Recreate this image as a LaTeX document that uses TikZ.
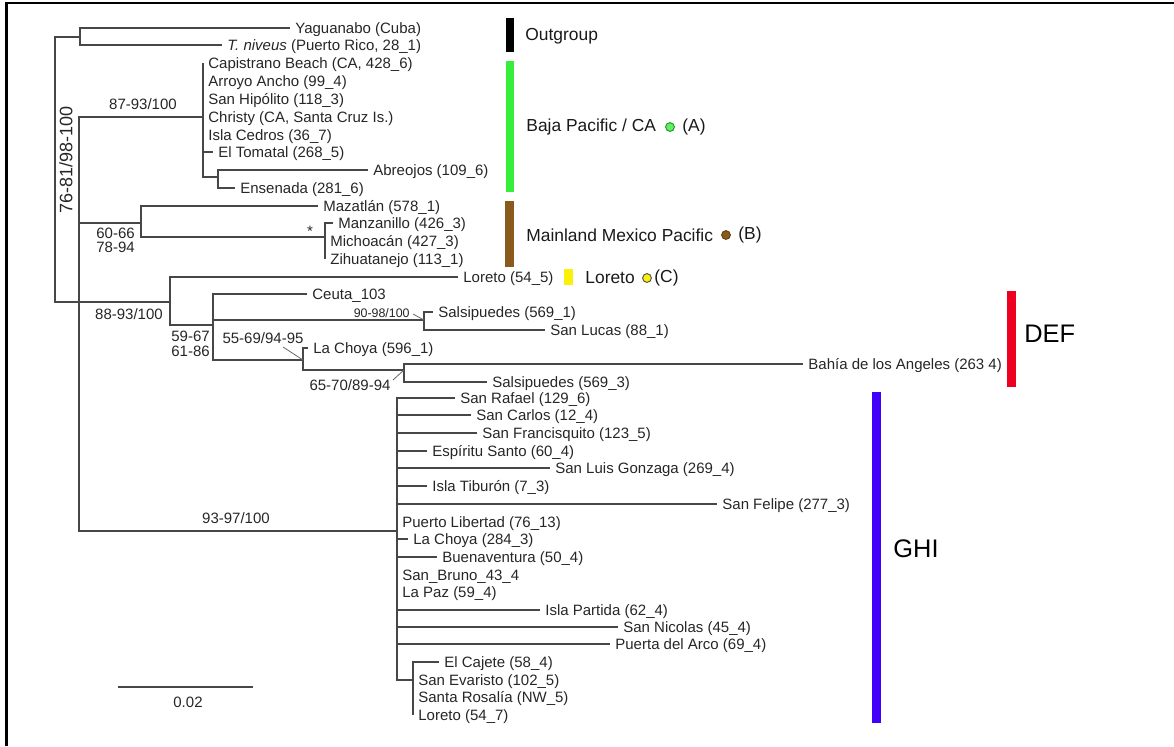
\documentclass[tikz,border=0pt]{standalone}
\usepackage{fontspec}
\setmainfont{Liberation Sans}
\definecolor{ogblack}{RGB}{0,0,0}
\definecolor{bajagreen}{RGB}{55,238,60}
\definecolor{mexbrown}{RGB}{138,90,28}
\definecolor{loryellow}{RGB}{250,240,10}
\definecolor{defred}{RGB}{238,0,32}
\definecolor{ghiblue}{RGB}{66,0,250}

\begin{document}
\begin{tikzpicture}[x=0.5pt,y=-0.5pt,
	br/.style={draw=black!72,line width=0.75pt},
	lead/.style={draw=black!60,line width=0.4pt},
	tx/.style={anchor=west,inner xsep=2.5pt,inner ysep=0pt,text height=6.4pt,text depth=1pt,font=\fontsize{7.5}{8}\selectfont,text=black!85},
	bsup/.style={inner sep=0pt,font=\fontsize{7.5}{8}\selectfont,text=black!85},
	grp/.style={anchor=west,inner sep=0pt,font=\fontsize{8.7}{10}\selectfont,text=black!90},
	big/.style={anchor=west,inner sep=0pt,font=\fontsize{12.7}{14}\selectfont,text=black},
	dot/.style={circle,inner sep=0pt,minimum size=4.4pt,line width=0.45pt}]
	\useasboundingbox (0,0) rectangle (1174,746);
	\draw[line width=1.25pt] (6.5,746) -- (6.5,3) -- (1174,3);
	\coordinate (root) at (55,170);
	\coordinate (out) at (80,37);
	\coordinate (ingr) at (79,302);
	\coordinate (baja) at (203,117);
	\coordinate (abn) at (218,177);
	\coordinate (mex) at (141,223);
	\coordinate (mann) at (325,237);
	\coordinate (lor) at (170,302);
	\coordinate (dd) at (213,325);
	\coordinate (sal) at (424,320);
	\coordinate (cho) at (303,360);
	\coordinate (bn) at (404,370);
	\coordinate (ghi) at (397,531);
	\coordinate (caj) at (413,680);
	\node[tx] (yag) at (290,28) {Yaguanabo (Cuba)};
	\node[tx] (niv) at (222,45) {\textit{T. niveus} (Puerto Rico, 28\_1)};
	\node[tx] (cap) at (203,63) {Capistrano Beach (CA, 428\_6)};
	\node[tx] (arr) at (203,81) {Arroyo Ancho (99\_4)};
	\node[tx] (hip) at (203,99) {San Hipólito (118\_3)};
	\node[tx] (chr) at (203,117) {Christy (CA, Santa Cruz Is.)};
	\node[tx] (ced) at (203,135) {Isla Cedros (36\_7)};
	\node[tx] (tom) at (213,152) {El Tomatal (268\_5)};
	\node[tx] (abr) at (368,170) {Abreojos (109\_6)};
	\node[tx] (ens) at (235,188) {Ensenada (281\_6)};
	\node[tx] (maz) at (318,206) {Mazatlán (578\_1)};
	\node[tx] (manz) at (333,223) {Manzanillo (426\_3)};
	\node[tx] (mich) at (325,241) {Michoacán (427\_3)};
	\node[tx] (zih) at (325,259) {Zihuatanejo (113\_1)};
	\node[tx] (lor5) at (458,277) {Loreto (54\_5)};
	\node[tx] (ceu) at (307,294) {Ceuta\_103};
	\node[tx] (sal1) at (433,312) {Salsipuedes (569\_1)};
	\node[tx] (luc) at (545,330) {San Lucas (88\_1)};
	\node[tx] (cho1) at (308,348) {La Choya (596\_1)};
	\node[tx] (bah) at (803,364) {Bahía de los Angeles (263 4)};
	\node[tx] (sal3) at (487,382) {Salsipuedes (569\_3)};
	\node[tx] (raf) at (455,398) {San Rafael (129\_6)};
	\node[tx] (car) at (471,415) {San Carlos (12\_4)};
	\node[tx] (fra) at (477,433) {San Francisquito (123\_5)};
	\node[tx] (esp) at (427,451) {Espíritu Santo (60\_4)};
	\node[tx] (gon) at (550,468) {San Luis Gonzaga (269\_4)};
	\node[tx] (tib) at (427,486) {Isla Tiburón (7\_3)};
	\node[tx] (fel) at (717,504) {San Felipe (277\_3)};
	\node[tx] (lib) at (397,522) {Puerto Libertad (76\_13)};
	\node[tx] (cho2) at (408,539) {La Choya (284\_3)};
	\node[tx] (bue) at (437,557) {Buenaventura (50\_4)};
	\node[tx] (bru) at (397,575) {San\_Bruno\_43\_4};
	\node[tx] (paz) at (397,592) {La Paz (59\_4)};
	\node[tx] (par) at (540,610) {Isla Partida (62\_4)};
	\node[tx] (nic) at (618,627) {San Nicolas (45\_4)};
	\node[tx] (arc) at (610,644) {Puerta del Arco (69\_4)};
	\node[tx] (ecaj) at (439,662) {El Cajete (58\_4)};
	\node[tx] (eva) at (413,680) {San Evaristo (102\_5)};
	\node[tx] (ros) at (413,697) {Santa Rosalía (NW\_5)};
	\node[tx] (lor7) at (413,715) {Loreto (54\_7)};
	\draw[br] (root) |- (out);
	\draw[br] (root) |- (ingr);
	\draw[br] (out) |- (yag.west);
	\draw[br] (out) |- (niv.west);
	\draw[br] (ingr) |- (baja);
	\draw[br] (ingr) |- (mex);
	\draw[br] (ingr) |- (lor);
	\draw[br] (ingr) |- (ghi);
	\foreach \c in {cap,arr,hip,chr,ced,tom}
		\draw[br] (baja) |- (\c.west);
	\draw[br] (baja) |- (abn);
	\draw[br] (abn) |- (abr.west);
	\draw[br] (abn) |- (ens.west);
	\draw[br] (mex) |- (maz.west);
	\draw[br] (mex) |- (mann);
	\foreach \c in {manz,mich,zih}
		\draw[br] (mann) |- (\c.west);
	\draw[br] (lor) |- (lor5.west);
	\draw[br] (lor) |- (dd);
	\draw[br] (dd) |- (ceu.west);
	\draw[br] (dd) |- (sal);
	\draw[br] (dd) |- (cho);
	\draw[br] (sal) |- (sal1.west);
	\draw[br] (sal) |- (luc.west);
	\draw[br] (cho) |- (cho1.west);
	\draw[br] (cho) |- (bn);
	\draw[br] (bn) |- (bah.west);
	\draw[br] (bn) |- (sal3.west);
	\foreach \c in {raf,car,fra,esp,gon,tib,fel,lib,cho2,bue,bru,paz,par,nic,arc}
		\draw[br] (ghi) |- (\c.west);
	\draw[br] (ghi) |- (caj);
	\foreach \c in {ecaj,eva,ros,lor7}
		\draw[br] (caj) |- (\c.west);
	\node[bsup] (s1) at (143,104) {87-93/100};
	\node[bsup,rotate=90,font=\fontsize{9}{10}\selectfont] (s2) at (66,160) {76-81/98-100};
	\node[bsup,anchor=west] (s3) at (96,233) {60-66};
	\node[bsup,anchor=west] (s4) at (96,247) {78-94};
	\node[bsup] (s5) at (310,231) {*};
	\node[bsup] (s6) at (129,314) {88-93/100};
	\node[bsup,anchor=west] (s7) at (171,336) {59-67};
	\node[bsup,anchor=west] (s8) at (171,351) {61-86};
	\node[bsup,anchor=east,font=\fontsize{6.2}{7}\selectfont] (s9) at (410,313) {90-98/100};
	\node[bsup] (s10) at (263,338) {55-69/94-95};
	\node[bsup] (s11) at (350,385) {65-70/89-94};
	\node[bsup] (s12) at (236,518) {93-97/100};
	\coordinate (l9) at (413,314);
	\coordinate (l10) at (283,347);
	\coordinate (l11) at (393,380);
	\draw[lead] (l9) -- (sal);
	\draw[lead] (l10) -- (cho);
	\draw[lead] (l11) -- (bn);
	\coordinate (sb1) at (118,687);
	\coordinate (sb2) at (253,687);
	\draw[br] (sb1) -- (sb2);
	\node[bsup] (sbl) at (188,702) {0.02};
	\fill[ogblack] (506,18) rectangle (514,52);
	\fill[bajagreen] (506,61) rectangle (514,192);
	\fill[mexbrown] (505,201) rectangle (514,267);
	\fill[loryellow] (564,269) rectangle (573,285);
	\fill[defred] (1007,291) rectangle (1016,387);
	\fill[ghiblue] (872,392) rectangle (881,723);
	\node[grp] (gout) at (525,36) {Outgroup};
	\node[grp] (gbaja) at (526,127) {Baja Pacific / CA};
	\node[dot,fill=bajagreen!80!white,draw=bajagreen!60!black] (da) at (670,127) {};
	\node[grp] (ga) at (682,127) {(A)};
	\node[grp] (gmex) at (526,235) {Mainland Mexico Pacific};
	\node[dot,fill=mexbrown,draw=mexbrown!70!black] (db) at (726,235) {};
	\node[grp] (gb) at (738,235) {(B)};
	\node[grp] (glor) at (585,278) {Loreto};
	\node[dot,fill=loryellow,draw=black!70] (dc) at (647,278) {};
	\node[grp] (gc) at (654,278) {(C)};
	\node[big] (gdef) at (1024,334) {DEF};
	\node[big] (gghi) at (893,549) {GHI};
\end{tikzpicture}
\end{document}
